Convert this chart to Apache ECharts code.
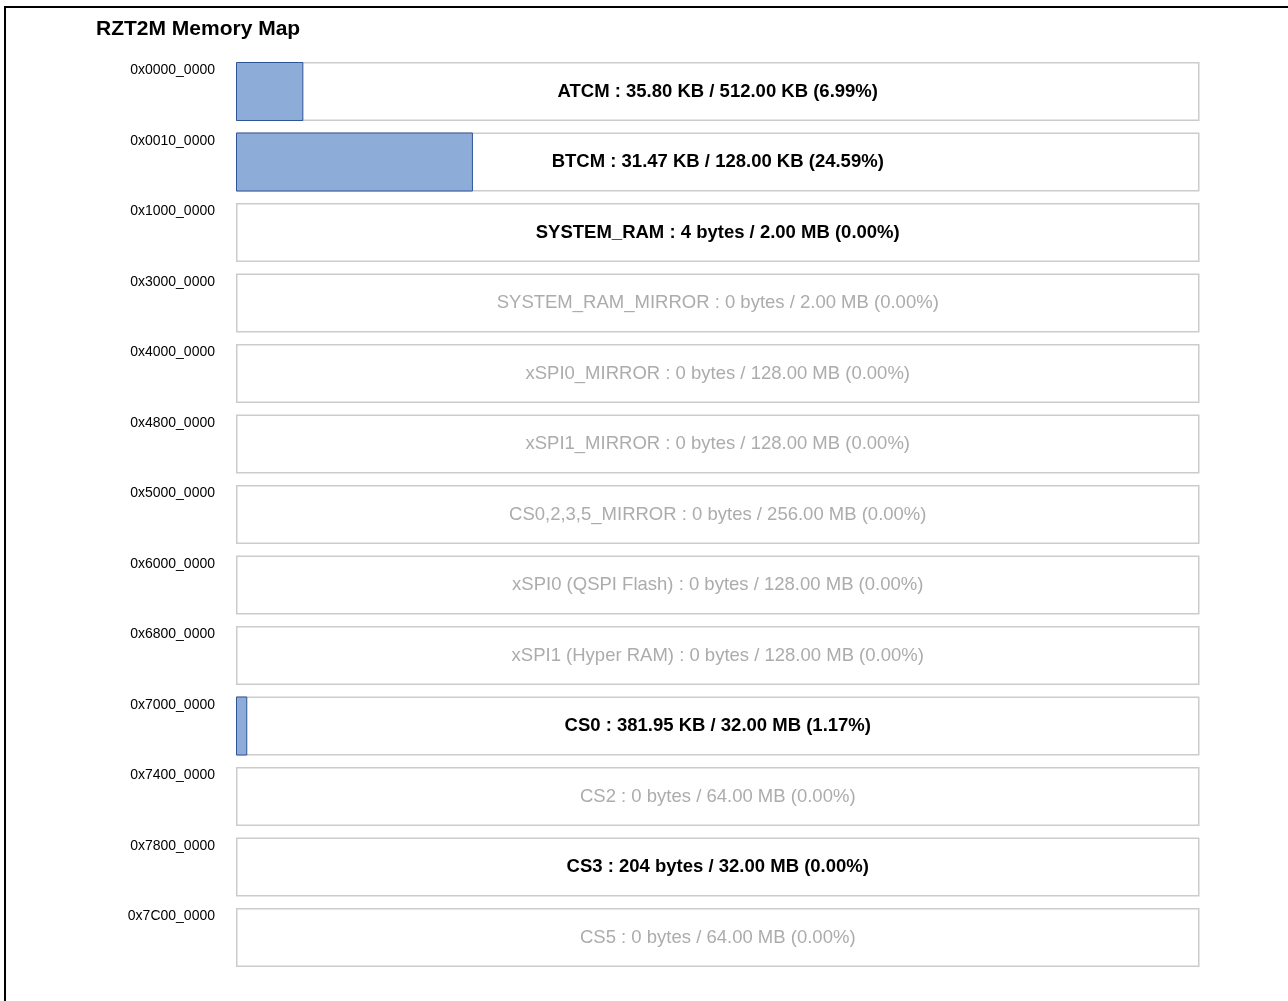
<!DOCTYPE html>
<html>
<head>
<meta charset="utf-8">
<script src="https://cdn.jsdelivr.net/npm/echarts@6/dist/echarts.min.js"></script>
<style>
html,body{margin:0;padding:0;background:#fff;overflow:hidden;}
#frame{position:absolute;left:4px;top:6px;width:1400px;height:1100px;border-left:2px solid #000;border-top:2px solid #000;pointer-events:none;}
#chart{position:absolute;left:0;top:0;width:1288px;height:1001px;}
</style>
</head>
<body>
<div id="chart"></div>
<div id="frame"></div>
<script>
const titleText = 'RZT2M Memory Map';
const regions = ['ATCM','BTCM','SYSTEM_RAM','SYSTEM_RAM_MIRROR','xSPI0_MIRROR','xSPI1_MIRROR','CS0,2,3,5_MIRROR','xSPI0 (QSPI Flash)','xSPI1 (Hyper RAM)','CS0','CS2','CS3','CS5'];
const addresses = ['0x0000_0000','0x0010_0000','0x1000_0000','0x3000_0000','0x4000_0000','0x4800_0000','0x5000_0000','0x6000_0000','0x6800_0000','0x7000_0000','0x7400_0000','0x7800_0000','0x7C00_0000'];
const usedText = ['35.80 KB','31.47 KB','4 bytes','0 bytes','0 bytes','0 bytes','0 bytes','0 bytes','0 bytes','381.95 KB','0 bytes','204 bytes','0 bytes'];
const totalText = ['512.00 KB','128.00 KB','2.00 MB','2.00 MB','128.00 MB','128.00 MB','256.00 MB','128.00 MB','128.00 MB','32.00 MB','64.00 MB','32.00 MB','64.00 MB'];
const usedPct = [6.99, 24.59, 0.0002, 0, 0, 0, 0, 0, 0, 1.17, 0, 0.0006, 0];
const fullPct = [100,100,100,100,100,100,100,100,100,100,100,100,100];

const chart = echarts.init(document.getElementById('chart'));
const font = 'Liberation Sans, Arial, sans-serif';
const bgData = fullPct.map((v, i) => {
  const used = usedPct[i] > 0;
  return {
    value: v,
    label: {
      color: used ? '#000000' : '#acacac',
      fontWeight: used ? 'bold' : 'normal'
    }
  };
});
const usedData = usedPct.map(v => ({
  value: v,
  itemStyle: v < 0.1 ? {borderWidth: 0, opacity: 0} : {}
}));
chart.setOption({
  animation: false,
  backgroundColor: '#ffffff',
  title: {
    text: titleText,
    left: 91, top: 14,
    textStyle: {fontFamily: font, fontSize: 21, fontWeight: 'bold', color: '#000'}
  },
  grid: {left: 236, right: 88.5, top: 56.25, height: 916.5, containLabel: false},
  xAxis: {type: 'value', min: 0, max: 100, show: false},
  yAxis: {
    type: 'category', inverse: true, data: addresses,
    axisLine: {show: false}, axisTick: {show: false}, splitLine: {show: false},
    axisLabel: {
      fontFamily: font, fontSize: 14, color: '#000', margin: 21,
      verticalAlign: 'bottom', padding: [0, 0, 14, 0]
    }
  },
  series: [
    {
      type: 'bar', name: 'total', data: bgData, barWidth: 59, barGap: '-100%',
      itemStyle: {color: '#ffffff', borderColor: '#cccccc', borderWidth: 1.5},
      label: {
        show: true, position: 'inside', fontFamily: font, fontSize: 18.5,
        formatter: p => regions[p.dataIndex] + ' : ' + usedText[p.dataIndex] + ' / ' + totalText[p.dataIndex] + ' (' + usedPct[p.dataIndex].toFixed(2) + '%)'
      },
      z: 1, silent: true
    },
    {
      type: 'bar', name: 'used', data: usedData, barWidth: 59, barGap: '-100%',
      itemStyle: {color: '#8eacd8', borderColor: '#2f5597', borderWidth: 1},
      z: 2, silent: true
    }
  ]
});
</script>
</body>
</html>
